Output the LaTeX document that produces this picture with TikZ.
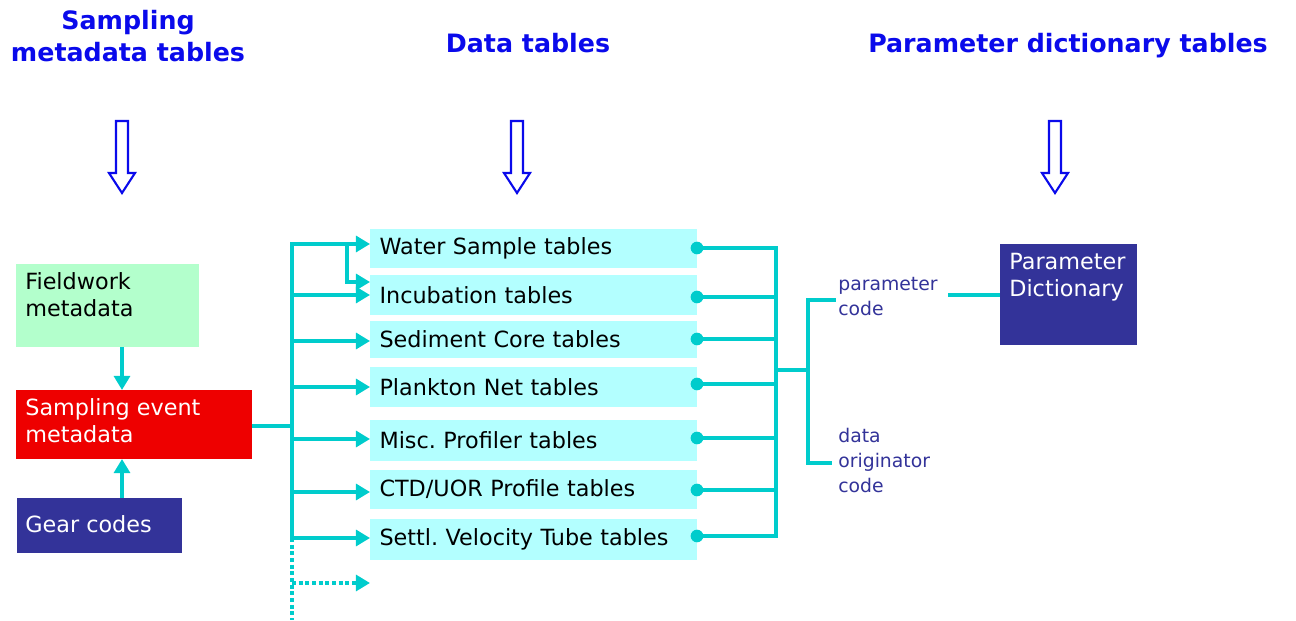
\documentclass[tikz,border=0pt]{standalone}
\usepackage{fontspec}
\setmainfont{DejaVu Sans}
\usetikzlibrary{arrows.meta}
\definecolor{cy}{RGB}{0,204,204}
\definecolor{cybox}{RGB}{179,255,255}
\definecolor{grbox}{RGB}{179,255,204}
\definecolor{rdbox}{RGB}{238,0,0}
\definecolor{dkblue}{RGB}{51,51,153}
\definecolor{ttl}{RGB}{10,10,235}
\begin{document}
\frenchspacing
\begin{tikzpicture}[x=0.02cm,y=-0.02cm,
  font=\fontsize{12.7}{15.3}\selectfont,
  title/.style={font=\fontsize{14.4}{18.2}\selectfont\bfseries, text=ttl, inner sep=0, anchor=base},
  boxbg/.style={inner sep=0, outer sep=0, draw=none},
  dtab/.style={fill=cybox, minimum width=6.54cm, inner xsep=0.19cm, inner ysep=0, outer sep=0, text width=6.16cm, align=left},
  mtext/.style={inner sep=0, anchor=base west},
  conn/.style={draw=cy, line width=2.2pt, line cap=rect},
  arr/.style={conn, -{Triangle[length=8pt, width=9pt]}},
  dotdash/.style={line cap=butt, dash pattern=on 2.2pt off 1.6pt},
  enddot/.style={fill=cy},
  hollow/.style={draw=ttl, line width=1.2pt, fill=white, line join=miter},
]
\useasboundingbox (0,0) rectangle (1296,621);

% titles
\node[title, align=center] (t1) at (128,30) {\parbox[t]{6cm}{\centering Sampling\\metadata tables}};
\node[title] (t2) at (528,53) {Data tables};
\node[title] (t3) at (1068,53) {Parameter dictionary tables};

% hollow arrows
\foreach \xx in {122, 517, 1055}{
  \draw[hollow] (\xx-6,121) -- (\xx+6,121) -- (\xx+6,173) -- (\xx+13,173) -- (\xx,193) -- (\xx-13,173) -- (\xx-6,173) -- cycle;
}

% left boxes
\node[boxbg, fill=grbox, minimum width=3.66cm, minimum height=1.66cm] (fw) at (107.5,305.5) {};
\node[mtext] (fwt) at (25,290) {\parbox[t]{3.4cm}{\raggedright Fieldwork\\metadata}};
\node[boxbg, fill=rdbox, minimum width=4.72cm, minimum height=1.38cm] (se) at (134,424.5) {};
\node[mtext, text=white] (set) at (25,416) {\parbox[t]{4.4cm}{\raggedright Sampling event\\metadata}};
\node[boxbg, fill=dkblue, minimum width=3.3cm, minimum height=1.1cm] (gc) at (99.5,525.5) {};
\node[mtext, text=white] (gct) at (25,533) {Gear codes};

\draw[arr, line cap=butt] (fw.south -| 122,0) -- (se.north -| 122,0);
\draw[arr, line cap=butt] (gc.north -| 122,0) -- (se.south -| 122,0);

% data tables
\node[dtab, minimum height=0.78cm] (ws) at (533.5,248.5) {Water Sample tables};
\node[dtab, minimum height=0.80cm] (inc) at (533.5,295) {Incubation tables};
\node[dtab, minimum height=0.74cm] (sed) at (533.5,339.5) {Sediment Core tables};
\node[dtab, minimum height=0.80cm] (pla) at (533.5,387) {Plankton Net tables};
\node[dtab, minimum height=0.82cm] (mis) at (533.5,440.5) {Misc. Profiler tables};
\node[dtab, minimum height=0.78cm] (ctd) at (533.5,489.5) {CTD/UOR Profile tables};
\node[dtab, minimum height=0.82cm] (stv) at (533.5,539.5) {Settl. Velocity Tube tables};
\coordinate (dots) at (370,583);

% left bus
\coordinate (bt) at (292,244);
\coordinate (bb) at (292,538);
\coordinate (bend) at (292,620);
\coordinate (br) at (347,244);
\coordinate (brb) at (347,282);
\draw[conn, line cap=butt] (se.east |- 0,426) -- (293,426);
\draw[conn] (bt) -- (bb);
\draw[conn, dotdash] (bb) -- (bend);
\draw[arr] (bt) -- (ws.west |- bt);
\draw[arr] (br) -- (brb) -- (inc.west |- brb);
\draw[arr] (bt |- inc.west) -- (inc.west);
\draw[arr] (bt |- 0,341) -- (sed.west |- 0,341);
\draw[arr] (bt |- pla.west) -- (pla.west);
\draw[arr] (bt |- 0,439) -- (mis.west |- 0,439);
\draw[arr] (bt |- 0,492) -- (ctd.west |- 0,492);
\draw[arr] (bt |- bb) -- (stv.west |- bb);
\draw[arr, dotdash] (bt |- dots) -- (dots);

% right bus
\coordinate (rt) at (776,248);
\coordinate (rb) at (776,536);
\draw[conn] (rt) -- (rb);
\foreach \nd/\yy in {ws/248, inc/297, sed/339, pla/384, mis/438, ctd/490, stv/536}{
  \draw[conn] (\nd.east |- 0,\yy) -- (rt |- 0,\yy);
  \fill[enddot] (\nd.east |- 0,\yy) circle (3.6pt);
}

\coordinate (m) at (808,370);
\coordinate (mt) at (808,300);
\coordinate (mb) at (808,463);
\draw[conn] (rt |- m) -- (m);
\draw[conn] (mt) -- (mb);

\node[mtext, text=dkblue, font=\fontsize{10.7}{14.2}\selectfont] (pc) at (838,291) {\parbox[t]{2cm}{\raggedright parameter\\code}};
\node[mtext, text=dkblue, font=\fontsize{10.7}{14.2}\selectfont] (doc) at (838,442.5) {\parbox[t]{2cm}{\raggedright data\\originator\\code}};
\draw[conn] (mt) -- (834,300);
\draw[conn] (mb) -- (830,463);

\node[boxbg, fill=dkblue, minimum width=2.74cm, minimum height=2.02cm] (pd) at (1068.5,294.5) {};
\node[mtext, text=white] (pdt) at (1009,270) {\parbox[t]{2.6cm}{\raggedright Parameter\\Dictionary}};
\draw[conn, line cap=butt] (948,295) -- (pd.west |- 0,295);
\end{tikzpicture}
\end{document}
